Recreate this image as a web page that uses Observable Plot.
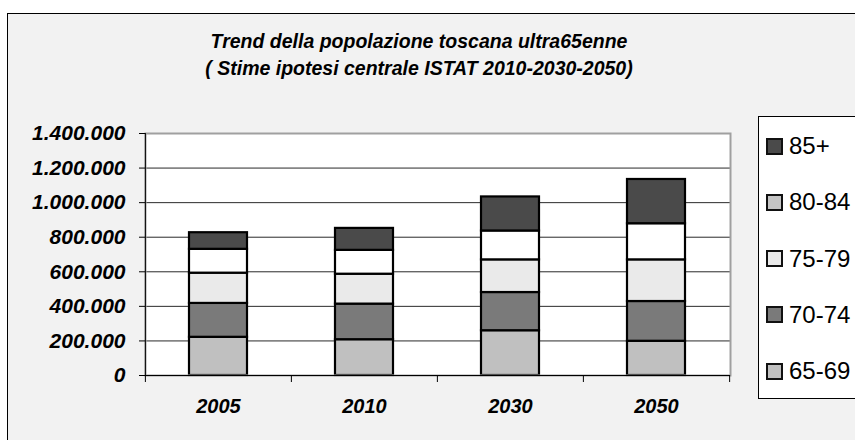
<!DOCTYPE html>
<html>
<head>
<meta charset="utf-8">
<script src="https://cdn.jsdelivr.net/npm/d3@7"></script>
<script src="https://cdn.jsdelivr.net/npm/@observablehq/plot@0.6"></script>
<style>
  html, body { margin: 0; padding: 0; background: #fff; width: 855px; height: 440px; overflow: hidden; }
  #frame { position: absolute; left: 7px; top: 13px; width: 900px; height: 500px; border: 1px solid #000; background: #f2f2f2; }
  .title { position: absolute; left: 0; width: 838px; text-align: center; font: bold italic 19.5px "Liberation Sans", Arial, sans-serif; line-height: 27px; color: #000; }
  #chart { position: absolute; left: 0; top: 0; }
  #legend { position: absolute; left: 758px; top: 116px; width: 130px; height: 281px; border: 1px solid #000; background: #fff; }
  .item { position: absolute; left: 7px; height: 28px; display: flex; align-items: center; font: 24px "Liberation Sans", Arial, sans-serif; color: #000; }
  .sw { width: 13px; height: 13px; border: 2px solid #111; margin-right: 6px; }
</style>
</head>
<body>
<div id="frame"></div>
<div class="title" style="top:28px">Trend della popolazione toscana ultra65enne</div>
<div class="title" style="top:55px">( Stime ipotesi centrale ISTAT 2010-2030-2050)</div>
<div id="chart"></div>
<div id="legend"></div>
<script>
// ---- data ----
const years = ["2005", "2010", "2030", "2050"];
const groups = ["65-69", "70-74", "75-79", "80-84", "85+"];
const v65_69 = [221000, 207000, 259000, 198000];
const v70_74 = [196000, 206000, 221000, 230000];
const v75_79 = [175000, 173000, 189000, 241000];
const v80_84 = [138000, 138000, 167000, 209000];
const v85plus = [96000, 127000, 197000, 256000];
const yTicks = [0, 200000, 400000, 600000, 800000, 1000000, 1200000, 1400000];
const barColors = ["#c0c0c0", "#7a7a7a", "#eaeaea", "#ffffff", "#4a4a4a"];
const legendOrder = ["85+", "80-84", "75-79", "70-74", "65-69"];
const legendColors = ["#4a4a4a", "#c4c4c4", "#eaeaea", "#7a7a7a", "#c0c0c0"];

const series = [v65_69, v70_74, v75_79, v80_84, v85plus];
const data = [];
years.forEach((yr, i) => groups.forEach((g, j) => data.push({ year: yr, group: g, value: series[j][i] })));

const fmt = d3.formatLocale({ decimal: ",", thousands: ".", grouping: [3], currency: ["", ""] }).format(",d");

const W = 855, H = 440, mL = 145, mR = 125, mT = 133, mB = 65;
const step = (W - mL - mR) / years.length;

const chart = Plot.plot({
  width: W, height: H,
  marginLeft: mL, marginRight: mR, marginTop: mT, marginBottom: mB,
  style: { background: "transparent", fontFamily: "'Liberation Sans', Arial, sans-serif", color: "#000", overflow: "visible" },
  x: { domain: years, paddingInner: 0.6, paddingOuter: 0.3, axis: null, label: null },
  y: { domain: [0, 1400000], axis: null, label: null },
  color: { domain: groups, range: barColors },
  marks: [
    Plot.frame({ fill: "#fff", stroke: null }),
    Plot.ruleY(yTicks.slice(0, -1), { stroke: "#2a2a2a", strokeWidth: 1 }),
    Plot.barY(data, { x: "year", y: "value", fill: "group", stroke: "#000", strokeWidth: 2.2 }),
    Plot.frame({ stroke: "#a0a0a0", strokeWidth: 2 }),
    Plot.ruleY([0], { stroke: "#000", strokeWidth: 1 }),
    Plot.ruleX([years[0]], { y1: 0, y2: 1400000, dx: -step / 2, stroke: "#000", strokeWidth: 1 }),
    Plot.ruleX(years, { y1: 0, y2: 0, insetBottom: -7, dx: -step / 2, stroke: "#000" }),
    Plot.ruleX([years[years.length - 1]], { y1: 0, y2: 0, insetBottom: -7, dx: step / 2, stroke: "#000" }),
    Plot.axisY(yTicks, { label: null, tickFormat: fmt, tickSize: 6, tickPadding: 14, fontSize: 21, fontWeight: "bold", fontStyle: "italic", stroke: "#000" }),
    Plot.axisX(years, { label: null, tickSize: 0, tickPadding: 23, fontSize: 20, fontWeight: "bold", fontStyle: "italic" })
  ]
});
document.getElementById("chart").appendChild(chart);

const leg = document.getElementById("legend");
legendOrder.forEach((g, i) => {
  const it = document.createElement("div");
  it.className = "item";
  it.style.top = (15 + i * 56.25) + "px";
  const sw = document.createElement("div");
  sw.className = "sw";
  sw.style.background = legendColors[i];
  const t = document.createElement("span");
  t.textContent = g;
  it.appendChild(sw); it.appendChild(t);
  leg.appendChild(it);
});
</script>
</body>
</html>
